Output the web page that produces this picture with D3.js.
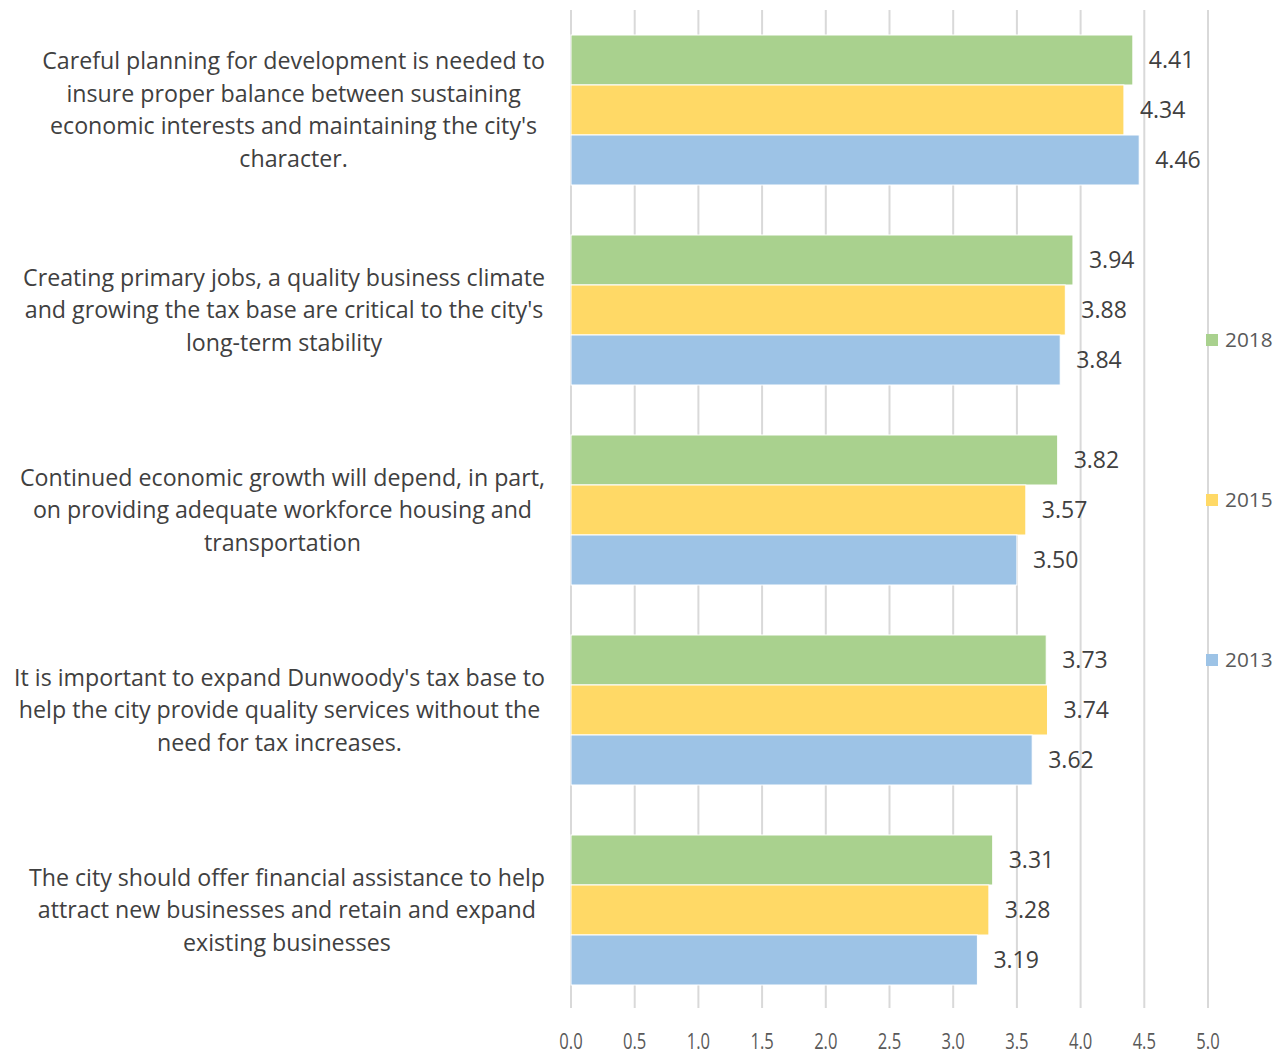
<!DOCTYPE html>
<html>
<head>
<meta charset="utf-8">
<script src="https://cdn.jsdelivr.net/npm/d3@7"></script>
<style>
  body { margin: 0; background: #fff; }
  svg { display: block; font-family: "Open Sans", sans-serif; }
</style>
</head>
<body>
<div class="canvas"></div>
<script>
// chart values
const statements = [
  "Careful planning for development is needed to|insure proper balance between sustaining|economic interests and maintaining the city's|character.",
  "Creating primary jobs, a quality business climate|and growing the tax base are critical to the city's|long-term stability",
  "Continued economic growth will depend, in part,|on providing adequate workforce housing and|transportation",
  "It is important to expand Dunwoody's tax base to|help the city provide quality services without the|need for tax increases.",
  "The city should offer financial assistance to help|attract new businesses and retain and expand|existing businesses"
];
const years = ["2018", "2015", "2013"];
const values2018 = [4.41, 3.94, 3.82, 3.73, 3.31];
const values2015 = [4.34, 3.88, 3.57, 3.74, 3.28];
const values2013 = [4.46, 3.84, 3.50, 3.62, 3.19];
const xTicks = [0, 0.5, 1, 1.5, 2, 2.5, 3, 3.5, 4, 4.5, 5];

const seriesValues = { "2018": values2018, "2015": values2015, "2013": values2013 };
const colors = { "2018": "#a9d18e", "2015": "#ffd966", "2013": "#9dc3e6" };

// dimensions
const w = 1286;
const h = 1055;
const plot = { left: 571, right: 1208, top: 10, bottom: 1010 };

const svg = d3.select(".canvas").append("svg").attr("width", w).attr("height", h);

const xScale = d3.scaleLinear().domain([0, 5]).range([plot.left, plot.right]);

// one band per statement, bars take 150 of every 200px
const yScale = d3.scaleBand()
  .domain(d3.range(statements.length))
  .range([plot.top, plot.bottom])
  .paddingInner(0.25)
  .paddingOuter(0.125);

const ySub = d3.scaleBand().domain(years).range([0, yScale.bandwidth()]);

// gridlines
svg.append("g")
  .selectAll("line")
  .data(xTicks)
  .join("line")
  .attr("x1", d => xScale(d))
  .attr("x2", d => xScale(d))
  .attr("y1", plot.top)
  .attr("y2", plot.bottom - 2)
  .attr("stroke", "#d9d9d9")
  .attr("stroke-width", 2);

// x-axis tick labels (narrow, like the original)
svg.append("g")
  .selectAll("text")
  .data(xTicks)
  .join("text")
  .attr("transform", d => `translate(${xScale(d)}, 1049) scale(0.79, 1)`)
  .attr("text-anchor", "middle")
  .attr("fill", "#595959")
  .style("font-size", "21px")
  .text(d => d3.format(".1f")(d));

// bars and value labels
const rows = [];
statements.forEach((s, i) => {
  years.forEach(yr => rows.push({ cat: i, year: yr, value: seriesValues[yr][i] }));
});

svg.append("g")
  .selectAll("rect")
  .data(rows)
  .join("rect")
  .attr("x", xScale(0))
  .attr("y", d => yScale(d.cat) + ySub(d.year))
  .attr("width", d => xScale(d.value) - xScale(0))
  .attr("height", ySub.bandwidth())
  .attr("fill", d => colors[d.year])
  .attr("stroke", "#ffffff")
  .attr("stroke-width", 1);

svg.append("g")
  .selectAll("text")
  .data(rows)
  .join("text")
  .attr("x", d => xScale(d.value) + 16)
  .attr("y", d => yScale(d.cat) + ySub(d.year) + ySub.bandwidth() / 2)
  .attr("dy", "0.35em")
  .attr("fill", "#404040")
  .style("font-size", "23px")
  .text(d => d3.format(".2f")(d.value));

// category labels: lines centred on each other, block ends near the plot
const labelRight = 545;
const lineH = 32.5;
statements.forEach((s, i) => {
  const lines = s.split("|");
  const g = svg.append("g");
  const texts = g.selectAll("text")
    .data(lines)
    .join("text")
    .attr("y", (d, j) => yScale(i) + yScale.bandwidth() / 2 + (j - (lines.length - 1) / 2) * lineH)
    .attr("dy", "0.35em")
    .attr("text-anchor", "middle")
    .attr("fill", "#404040")
    .style("font-size", "23.2px")
    .text(d => d);
  let maxW = 0;
  texts.each(function () { maxW = Math.max(maxW, this.getComputedTextLength()); });
  texts.attr("x", labelRight - maxW / 2);
});

// legend
const legendY = [340, 500, 660];
const legend = svg.append("g")
  .selectAll("g")
  .data(years)
  .join("g")
  .attr("transform", (d, i) => `translate(1206, ${legendY[i]})`);

legend.append("rect")
  .attr("x", 0)
  .attr("y", -6)
  .attr("width", 12)
  .attr("height", 12)
  .attr("fill", d => colors[d]);

legend.append("text")
  .attr("x", 19)
  .attr("y", 0)
  .attr("dy", "0.35em")
  .attr("fill", "#595959")
  .style("font-size", "20.8px")
  .text(d => d);
</script>
</body>
</html>
